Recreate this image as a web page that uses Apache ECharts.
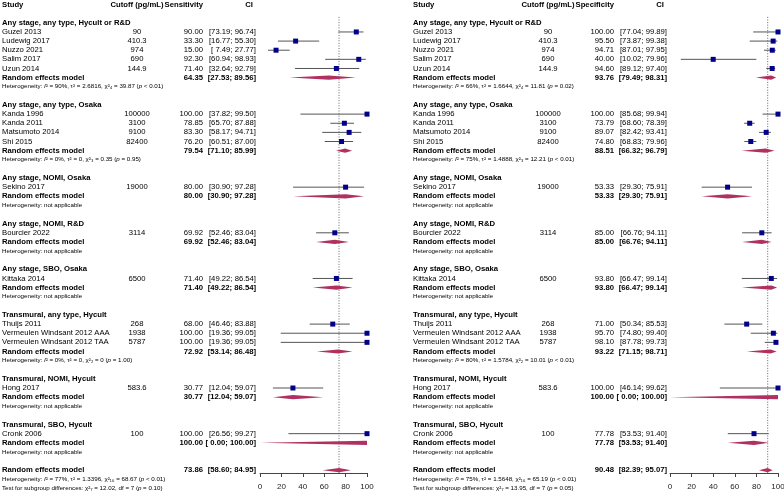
<!DOCTYPE html>
<html><head><meta charset="utf-8">
<script src="https://cdn.jsdelivr.net/npm/echarts@6/dist/echarts.min.js"></script>
<style>html,body{margin:0;padding:0;background:#fff}#c{width:784px;height:493px}</style>
</head><body><div id="c"></div>
<script>
// ---------------- DATA ----------------
const groupNames = [
  'Any stage, any type, Hycult or R&D',
  'Any stage, any type, Osaka',
  'Any stage, NOMI, Osaka',
  'Any stage, NOMI, R&D',
  'Any stage, SBO, Osaka',
  'Transmural, any type, Hycult',
  'Transmural, NOMI, Hycult',
  'Transmural, SBO, Hycult'
];
const studyNames = ['Guzel 2013','Ludewig 2017','Nuzzo 2021','Salim 2017','Uzun 2014',
  'Kanda 1996','Kanda 2011','Matsumoto 2014','Shi 2015','Sekino 2017','Bourcier 2022',
  'Kittaka 2014','Thuijs 2011','Vermeulen Windsant 2012 AAA','Vermeulen Windsant 2012 TAA',
  'Hong 2017','Cronk 2006'];
const studyGroup = [0,0,0,0,0,1,1,1,1,2,3,4,5,5,5,6,7];
const cutoffs = ['90','410.3','974','690','144.9','100000','3100','9100','82400','19000',
  '3114','6500','268','1938','5787','583.6','100'];

const measureNames = ['Sensitivity', 'Specificity'];

const sensEst  = [90.00,33.30,15.00,92.30,71.40,100.00,78.85,83.30,76.20,80.00,69.92,71.40,68.00,100.00,100.00,30.77,100.00];
const sensLow  = [73.19,16.77, 7.49,60.94,32.64, 37.82,65.70,58.17,60.51,30.90,52.46,49.22,46.46, 19.36, 19.36,12.04, 26.56];
const sensHigh = [96.74,55.30,27.77,98.93,92.79, 99.50,87.88,94.71,87.00,97.28,83.04,86.54,83.88, 99.05, 99.05,59.07, 99.27];
const sensPoolEst  = [64.35,79.54,80.00,69.92,71.40,72.92,30.77,100.00];
const sensPoolLow  = [27.53,71.10,30.90,52.46,49.22,53.14,12.04,  0.00];
const sensPoolHigh = [89.56,85.99,97.28,83.04,86.54,86.48,59.07,100.00];
const sensHet = [
  'I² = 90%, τ² = 2.6816, χ²₄ = 39.87 (p < 0.01)',
  'I² = 0%, τ² = 0, χ²₃ = 0.35 (p = 0.95)',
  'not applicable','not applicable','not applicable',
  'I² = 0%, τ² = 0, χ²₂ = 0 (p = 1.00)',
  'not applicable','not applicable'];
const sensOverall = [73.86, 58.60, 84.95];
const sensOverallHet = 'I² = 77%, τ² = 1.3396, χ²₁₆ = 68.67 (p < 0.01)';
const sensSubgroupTest = 'χ²₇ = 12.02, df = 7 (p = 0.10)';

const specEst  = [100.00,95.50,94.71,40.00,94.60,100.00,73.79,89.07,74.80,53.33,85.00,93.80,71.00,95.70,98.10,100.00,77.78];
const specLow  = [ 77.04,73.87,87.01,10.02,89.12, 85.68,68.60,82.42,68.83,29.30,66.76,66.47,50.34,74.80,87.78, 46.14,53.53];
const specHigh = [ 99.89,99.38,97.95,79.96,97.40, 99.94,78.39,93.41,79.96,75.91,94.11,99.14,85.53,99.40,99.73, 99.62,91.40];
const specPoolEst  = [93.76,88.51,53.33,85.00,93.80,93.22,100.00,77.78];
const specPoolLow  = [79.49,66.32,29.30,66.76,66.47,71.15,  0.00,53.53];
const specPoolHigh = [98.31,96.79,75.91,94.11,99.14,98.71,100.00,91.40];
const specHet = [
  'I² = 66%, τ² = 1.6644, χ²₄ = 11.81 (p = 0.02)',
  'I² = 75%, τ² = 1.4888, χ²₃ = 12.21 (p < 0.01)',
  'not applicable','not applicable','not applicable',
  'I² = 80%, τ² = 1.5784, χ²₂ = 10.01 (p < 0.01)',
  'not applicable','not applicable'];
const specOverall = [90.48, 82.39, 95.07];
const specOverallHet = 'I² = 75%, τ² = 1.5648, χ²₁₆ = 65.19 (p < 0.01)';
const specSubgroupTest = 'χ²₇ = 13.95, df = 7 (p = 0.05)';

// ---------------- LAYOUT / STYLE ----------------
const FF = '"Liberation Sans", Arial, Helvetica, sans-serif';
const W = 784, H = 493;
const Y_MIN = -0.5, Y_MAX = 53.5;
const ROW_PX = H / (Y_MAX - Y_MIN);
const AXIS_OFFSET = -20;
const AXIS_ROW = (H + AXIS_OFFSET) / ROW_PX + Y_MIN;
const REF_TOP_ROW = 1.35;
const PANEL_DX = 411;
const COL = {label: 2, cutoff: 137, est: 203, ci: 256, ciHead: 253};
const PLOT_GRIDS = [{left: 260, width: 107}, {left: 670, width: 108}];
const MAIN_FS = 7.7, HET_FS = 6.2, AXIS_FS = 8;
const SQUARE_COLOR = '#00008B', DIAMOND_COLOR = '#B03060', CI_COLOR = '#555';
const DIAMOND_HALF = 2.1, SQUARE_SIZE = 5;

const panels = [
  {name: measureNames[0], est: sensEst, low: sensLow, high: sensHigh,
   pEst: sensPoolEst, pLow: sensPoolLow, pHigh: sensPoolHigh, het: sensHet,
   overall: sensOverall, overallHet: sensOverallHet, test: sensSubgroupTest},
  {name: measureNames[1], est: specEst, low: specLow, high: specHigh,
   pEst: specPoolEst, pLow: specPoolLow, pHigh: specPoolHigh, het: specHet,
   overall: specOverall, overallHet: specOverallHet, test: specSubgroupTest}
];

// row layout
const studyRow = [], poolRow = [], headRow = [], hetRow = [];
let r = 2;
for (let g = 0; g < groupNames.length; g++) {
  headRow.push(r++);
  studyGroup.forEach((gg, i) => { if (gg === g) studyRow[i] = r++; });
  poolRow.push(r++);
  hetRow.push(r++);
  r++;
}
const overallRow = r, overallHetRow = r + 1, testRow = r + 2;

const fmt = v => (v < 10 ? ' ' : '') + v.toFixed(2);
const ciText = (l, h) => '[' + fmt(l) + '; ' + fmt(h) + ']';
const richHet = s => s.replace(/^I²/, '{i|I}²').replace('(p ', '({i|p} ');

// text items
const texts = [];
function T(x, row, text, kind, align) { texts.push({x, row, text, kind, align}); }
panels.forEach((P, p) => {
  const o = p * PANEL_DX;
  T(o + COL.label, 0, 'Study', 'b', 'left');
  T(o + COL.cutoff, 0, 'Cutoff (pg/mL)', 'b', 'center');
  T(o + COL.est, 0, P.name, 'b', 'right');
  T(o + COL.ciHead, 0, 'CI', 'b', 'right');
  groupNames.forEach((gn, g) => {
    T(o + COL.label, headRow[g], gn, 'b', 'left');
    T(o + COL.label, poolRow[g], 'Random effects model', 'b', 'left');
    T(o + COL.est, poolRow[g], P.pEst[g].toFixed(2), 'b', 'right');
    T(o + COL.ci, poolRow[g], ciText(P.pLow[g], P.pHigh[g]), 'b', 'right');
    T(o + COL.label, hetRow[g], 'Heterogeneity: ' + richHet(P.het[g]), 'h', 'left');
  });
  studyNames.forEach((sn, i) => {
    T(o + COL.label, studyRow[i], sn, 'n', 'left');
    T(o + COL.cutoff, studyRow[i], cutoffs[i], 'n', 'center');
    T(o + COL.est, studyRow[i], P.est[i].toFixed(2), 'n', 'right');
    T(o + COL.ci, studyRow[i], ciText(P.low[i], P.high[i]), 'n', 'right');
  });
  T(o + COL.label, overallRow, 'Random effects model', 'b', 'left');
  T(o + COL.est, overallRow, P.overall[0].toFixed(2), 'b', 'right');
  T(o + COL.ci, overallRow, ciText(P.overall[1], P.overall[2]), 'b', 'right');
  T(o + COL.label, overallHetRow, 'Heterogeneity: ' + richHet(P.overallHet), 'h', 'left');
  T(o + COL.label, testRow, 'Test for subgroup differences: ' + richHet(P.test), 'h', 'left');
});

const chart = echarts.init(document.getElementById('c'), null, {renderer: 'canvas'});

const textSeries = {
  type: 'custom', xAxisIndex: 0, yAxisIndex: 0, silent: true, z: 10,
  data: texts.map((t, i) => [t.x, t.row, i]),
  encode: {x: 0, y: 1},
  renderItem: (params, api) => {
    const t = texts[api.value(2)];
    const pt = api.coord([api.value(0), api.value(1)]);
    const fs = t.kind === 'h' ? HET_FS : MAIN_FS;
    return {
      type: 'text', x: pt[0], y: pt[1],
      style: {
        text: t.text, fill: '#000', fontFamily: FF, fontSize: fs,
        fontWeight: t.kind === 'b' ? 'bold' : 'normal',
        align: t.align, verticalAlign: 'middle',
        rich: {i: {fontStyle: 'italic', fontFamily: FF, fontSize: fs, fill: '#000'}}
      }
    };
  }
};

const series = [textSeries];
panels.forEach((P, p) => {
  const ax = p + 1;
  // reference line at overall estimate
  series.push({
    type: 'custom', xAxisIndex: ax, yAxisIndex: ax, silent: true, z: 1,
    data: [[P.overall[0], REF_TOP_ROW, AXIS_ROW]],
    encode: {x: 0, y: [1, 2]},
    renderItem: (params, api) => {
      const a = api.coord([api.value(0), api.value(1)]);
      const b = api.coord([api.value(0), api.value(2)]);
      return {type: 'line', shape: {x1: a[0], y1: a[1], x2: b[0], y2: b[1]},
        style: {stroke: '#666', lineWidth: 1, lineDash: [1, 1.6]}};
    }
  });
  // CI lines
  series.push({
    type: 'custom', xAxisIndex: ax, yAxisIndex: ax, silent: true, z: 2,
    data: studyNames.map((s, i) => [P.low[i], P.high[i], studyRow[i]]),
    encode: {x: [0, 1], y: 2},
    renderItem: (params, api) => {
      const a = api.coord([api.value(0), api.value(2)]);
      const b = api.coord([api.value(1), api.value(2)]);
      return {type: 'line', shape: {x1: a[0], y1: a[1], x2: b[0], y2: b[1]},
        style: {stroke: CI_COLOR, lineWidth: 1}};
    }
  });
  // squares
  series.push({
    type: 'scatter', xAxisIndex: ax, yAxisIndex: ax, silent: true, z: 3,
    symbol: 'rect', symbolSize: SQUARE_SIZE,
    itemStyle: {color: SQUARE_COLOR, opacity: 1},
    data: studyNames.map((s, i) => [P.est[i], studyRow[i]])
  });
  // diamonds
  const dData = groupNames.map((g, k) => [P.pLow[k], P.pHigh[k], P.pEst[k], poolRow[k]]);
  dData.push([P.overall[1], P.overall[2], P.overall[0], overallRow]);
  series.push({
    type: 'custom', xAxisIndex: ax, yAxisIndex: ax, silent: true, z: 4,
    data: dData,
    encode: {x: [0, 1, 2], y: 3},
    renderItem: (params, api) => {
      const row = api.value(3);
      const l = api.coord([api.value(0), row]);
      const h = api.coord([api.value(1), row]);
      const c = api.coord([api.value(2), row]);
      return {type: 'polygon',
        shape: {points: [[l[0], l[1]], [c[0], c[1] - DIAMOND_HALF], [h[0], h[1]], [c[0], c[1] + DIAMOND_HALF]]},
        style: {fill: DIAMOND_COLOR, stroke: null}};
    }
  });
});

const plotX = i => ({
  gridIndex: i, type: 'value', min: 0, max: 100, interval: 20,
  position: 'bottom', offset: AXIS_OFFSET,
  axisLine: {show: true, onZero: false, lineStyle: {color: '#444', width: 1}},
  axisTick: {show: true, length: 4, lineStyle: {color: '#444', width: 1}},
  axisLabel: {show: true, fontSize: AXIS_FS, color: '#222', margin: 9.5, fontFamily: FF,
    showMinLabel: true, showMaxLabel: true, hideOverlap: false},
  splitLine: {show: false}
});

chart.setOption({
  animation: false,
  backgroundColor: '#fff',
  tooltip: {show: false},
  grid: [
    {left: 0, top: 0, width: W, height: H, outerBoundsMode: 'none', containLabel: false},
    {left: PLOT_GRIDS[0].left, width: PLOT_GRIDS[0].width, top: 0, height: H, outerBoundsMode: 'none', containLabel: false},
    {left: PLOT_GRIDS[1].left, width: PLOT_GRIDS[1].width, top: 0, height: H, outerBoundsMode: 'none', containLabel: false}
  ],
  xAxis: [{gridIndex: 0, type: 'value', min: 0, max: W, show: false}, plotX(1), plotX(2)],
  yAxis: [0, 1, 2].map(i => ({gridIndex: i, type: 'value', min: Y_MIN, max: Y_MAX, inverse: true, show: false})),
  series: series
});
</script>
</body></html>
